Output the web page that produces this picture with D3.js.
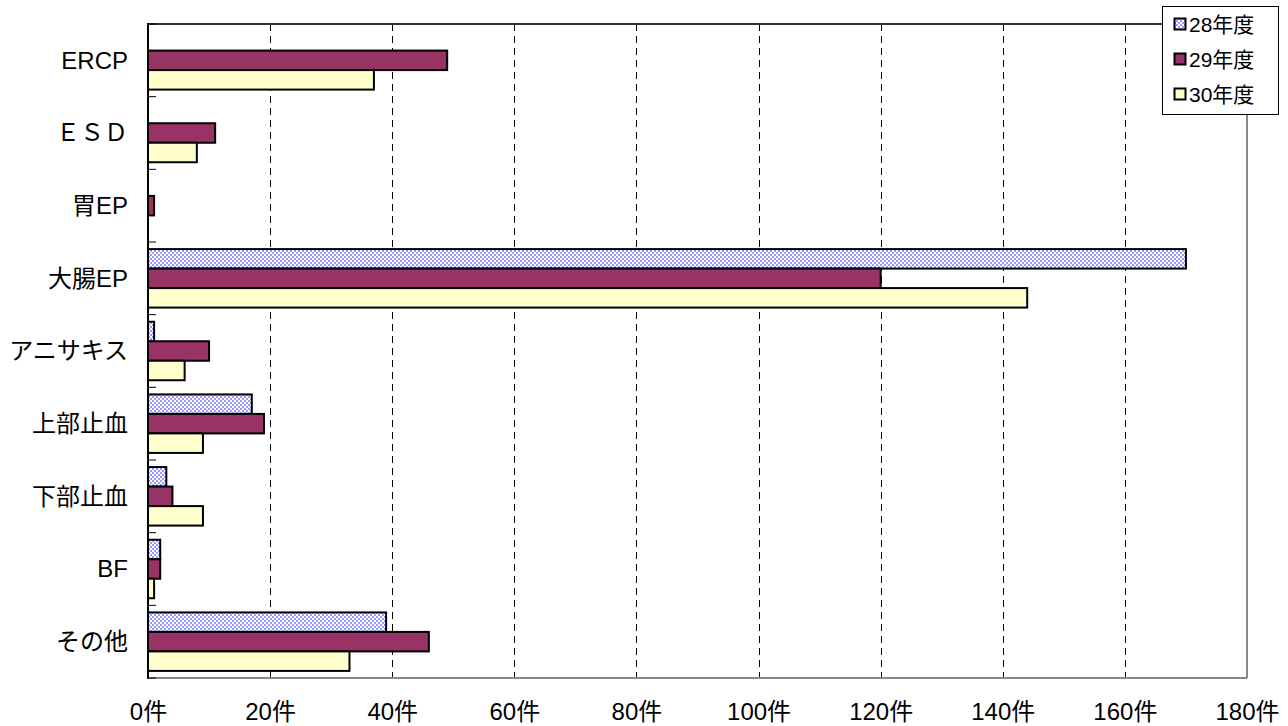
<!DOCTYPE html>
<html><head><meta charset="utf-8">
<script src="https://cdn.jsdelivr.net/npm/d3@7"></script>
<style>
html,body{margin:0;padding:0;background:#fff;}
svg{display:block;}
text{font-family:"Liberation Sans","Noto Sans CJK JP",sans-serif;fill:#000;}
</style></head>
<body>
<svg id="chart" width="1288" height="726"></svg>
<script>
const categories = ["ERCP","ＥＳＤ","胃EP","大腸EP","アニサキス","上部止血","下部止血","BF","その他"];
const seriesNames = ["28年度","29年度","30年度"];
const values28 = [0,0,0,170,1,17,3,2,39];
const values29 = [49,11,1,120,10,19,4,2,46];
const values30 = [37,8,0,144,6,9,9,1,33];
const xTicks = [0,20,40,60,80,100,120,140,160,180];
const tickSuffix = "件";

const seriesValues = [values28, values29, values30];
const fills = ["url(#checker)","#993366","#ffffcc"];

const svg = d3.select("#chart");
const defs = svg.append("defs");
const pat = defs.append("pattern").attr("id","checker").attr("patternUnits","userSpaceOnUse")
  .attr("width",4).attr("height",4);
pat.append("rect").attr("width",4).attr("height",4).attr("fill","#ffffff");
pat.append("rect").attr("width",2).attr("height",2).attr("fill","#9999ff");
pat.append("rect").attr("x",2).attr("y",2).attr("width",2).attr("height",2).attr("fill","#9999ff");

const L=148, R=1247, T=24, B=678;
const x = d3.scaleLinear().domain([0,180]).range([L,R]);
const y = d3.scaleBand().domain(categories).range([T,B]).paddingInner(0.195).paddingOuter(0.0975);
const ys = d3.scaleBand().domain(seriesNames).range([0,y.bandwidth()]);

// gridlines
svg.append("g").selectAll("line").data(xTicks.filter(t=>t>0 && t<180)).join("line")
  .attr("x1",d=>Math.round(x(d))+0.5).attr("x2",d=>Math.round(x(d))+0.5)
  .attr("y1",T).attr("y2",B)
  .attr("stroke","#000").attr("stroke-width",1).attr("stroke-dasharray","7,5");

// plot border (top dark, right/bottom gray)
svg.append("line").attr("x1",L).attr("x2",R).attr("y1",T).attr("y2",T).attr("stroke","#333").attr("stroke-width",2);
svg.append("line").attr("x1",R).attr("x2",R).attr("y1",T).attr("y2",B).attr("stroke","#888").attr("stroke-width",2);
svg.append("line").attr("x1",L).attr("x2",R).attr("y1",B).attr("y2",B).attr("stroke","#888").attr("stroke-width",2);

// bars
const data = [];
categories.forEach((c,i)=>{
  seriesNames.forEach((s,j)=>{
    data.push({cat:c, ser:s, v:seriesValues[j][i], fill:fills[j]});
  });
});
svg.append("g").selectAll("rect").data(data.filter(d=>d.v>0)).join("rect")
  .attr("x",x(0))
  .attr("y",d=>y(d.cat)+ys(d.ser))
  .attr("width",d=>x(d.v)-x(0))
  .attr("height",ys.bandwidth())
  .attr("fill",d=>d.fill)
  .attr("stroke","#000").attr("stroke-width",2);

// left axis
const yAxis = d3.axisLeft(y).tickSize(0).tickPadding(20);
const gy = svg.append("g").attr("transform",`translate(${L},0)`).call(yAxis);
gy.select(".domain").remove();
gy.selectAll("text").style("font-size","24px").attr("dy","0.35em");
// category boundary ticks (inside)
const bounds = d3.range(categories.length+1).map(i=>T + i*(B-T)/categories.length);
svg.append("g").selectAll("line").data(bounds).join("line")
  .attr("x1",L).attr("x2",L+8).attr("y1",d=>d).attr("y2",d=>d)
  .attr("stroke","#000").attr("stroke-width",1);
svg.append("line").attr("x1",L).attr("x2",L).attr("y1",T-1).attr("y2",B+1).attr("stroke","#000").attr("stroke-width",2);

// bottom axis labels
const xAxis = d3.axisBottom(x).tickValues(xTicks).tickSize(0).tickPadding(25).tickFormat(d=>d+tickSuffix);
const gx = svg.append("g").attr("transform",`translate(0,${B})`).call(xAxis);
gx.select(".domain").remove();
gx.selectAll("text").style("font-size","24px");

// legend
const lg = svg.append("g");
lg.append("rect").attr("x",1162.5).attr("y",6.5).attr("width",116).attr("height",108)
  .attr("fill","#fff").attr("stroke","#000").attr("stroke-width",1);
seriesNames.forEach((s,j)=>{
  const cy = 24 + j*35;
  lg.append("rect").attr("x",1174.5).attr("y",cy-5.5).attr("width",11).attr("height",11)
    .attr("fill",fills[j]).attr("stroke","#000").attr("stroke-width",2);
  lg.append("text").attr("x",1189).attr("y",cy).attr("dy","0.36em").style("font-size","21px").text(s);
});
</script>
</body></html>
